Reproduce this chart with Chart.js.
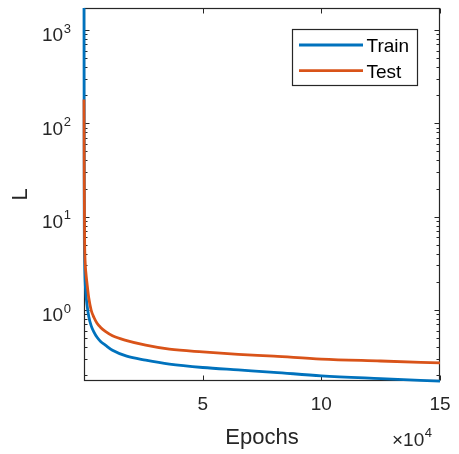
<!DOCTYPE html>
<html>
<head>
<meta charset="utf-8">
<script src="https://cdn.jsdelivr.net/npm/chart.js@4"></script>
<style>
html, body { margin: 0; padding: 0; background: #fff; }
</style>
</head>
<body>
<canvas id="lossChart" width="459" height="454"></canvas>
<script>
// values
var epochs = [0, 100, 250, 450, 800, 1250, 2000, 3000, 4200, 5500, 7000, 9000,
  12000, 18000, 26000, 36000, 50000, 65000, 80000, 100000, 125000, 150000];
var trainLoss = [2000, 12, 3.5, 2.1, 1.5, 1.15, 0.85, 0.68, 0.58, 0.51, 0.46, 0.42,
  0.37, 0.32, 0.29, 0.263, 0.242, 0.228, 0.215, 0.197, 0.184, 0.173];
var testLoss = [180, 25, 6, 3.4, 2.5, 1.95, 1.35, 1.0, 0.83, 0.72, 0.65, 0.59,
  0.53, 0.47, 0.42, 0.38, 0.355, 0.335, 0.32, 0.298, 0.284, 0.271];
var seriesNames = ['Train', 'Test'];
var xTicks = [50000, 100000, 150000];
var yDecades = [0, 1, 2, 3];
var xRange = [0, 150000];
var yRange = [0.1734, 1721];

var axisColor = '#262626';
var fontFam = '"Liberation Sans", Arial, Helvetica, sans-serif';

function toPoints(xs, ys) {
    let pts = [];
    for (let i = 0; i < xs.length; i++) {
        pts.push({ x: xs[i], y: ys[i] });
    }
    return pts;
}

// matlab style box, inward ticks, 10^n labels and legend
var matlabAxes = {
    id: 'matlabAxes',
    beforeDatasetsDraw: function (chart) {
        var ctx = chart.ctx;
        var a = chart.chartArea;
        var xs = chart.scales.x;
        var ys = chart.scales.y;
        var L = Math.round(a.left) + 0.5, R = Math.round(a.right) - 0.5;
        var T = Math.round(a.top) + 0.5, B = Math.round(a.bottom) - 0.5;
        ctx.save();
        ctx.strokeStyle = axisColor;
        ctx.lineWidth = 1;
        ctx.beginPath();
        for (var v of xTicks) {
            var px = Math.round(xs.getPixelForValue(v)) + 0.5;
            ctx.moveTo(px, B); ctx.lineTo(px, B - 5);
            ctx.moveTo(px, T); ctx.lineTo(px, T + 5);
        }
        for (var d = -1; d <= 3; d++) {
            for (var m = 1; m <= 9; m++) {
                var val = m * Math.pow(10, d);
                if (val < yRange[0] || val > yRange[1]) continue;
                var py = Math.round(ys.getPixelForValue(val)) + 0.5;
                var len = m == 1 ? 5 : 3;
                ctx.moveTo(L, py); ctx.lineTo(L + len, py);
                ctx.moveTo(R, py); ctx.lineTo(R - len, py);
            }
        }
        ctx.stroke();
        ctx.lineWidth = 1.2;
        ctx.strokeRect(L, T, R - L, B - T);

        // y tick labels with superscripts
        ctx.fillStyle = axisColor;
        ctx.textBaseline = 'middle';
        ctx.textAlign = 'left';
        for (var e of yDecades) {
            var y = ys.getPixelForValue(Math.pow(10, e));
            ctx.font = '19px ' + fontFam;
            var bx = a.left - 42;
            ctx.fillText('10', bx, y + 6);
            var w = ctx.measureText('10').width;
            ctx.font = '13px ' + fontFam;
            ctx.fillText(String(e), bx + w + 0.5, y - 1);
        }

        // x10^4 multiplier
        ctx.font = '19px ' + fontFam;
        var mx = a.right - 48;
        var my = a.bottom + 60;
        ctx.fillText('\u00d710', mx, my);
        var mw = ctx.measureText('\u00d710').width;
        ctx.font = '13px ' + fontFam;
        ctx.fillText('4', mx + mw + 0.5, my - 8);
        ctx.restore();
    },
    afterDraw: function (chart) {
        var ctx = chart.ctx;
        var a = chart.chartArea;
        var bx = Math.round(a.right) - 147.5;
        var by = Math.round(a.top) + 21.5;
        ctx.save();
        ctx.fillStyle = '#fff';
        ctx.fillRect(bx, by, 125, 56);
        ctx.strokeStyle = axisColor;
        ctx.lineWidth = 1.2;
        ctx.strokeRect(bx, by, 125, 56);
        chart.data.datasets.forEach(function (ds, i) {
            var ly = by + 15.5 + i * 25.7;
            ctx.strokeStyle = ds.borderColor;
            ctx.lineWidth = 2.8;
            ctx.beginPath();
            ctx.moveTo(bx + 6.5, ly);
            ctx.lineTo(bx + 70.5, ly);
            ctx.stroke();
            ctx.fillStyle = '#000';
            ctx.font = '19px ' + fontFam;
            ctx.textBaseline = 'middle';
            ctx.textAlign = 'left';
            ctx.fillText(ds.label, bx + 74, ly + 2);
        });
        ctx.restore();
    }
};

var chartData = {
    datasets: [{
        label: seriesNames[0],
        data: toPoints(epochs, trainLoss),
        borderColor: '#0072BD',
        borderWidth: 2.8,
        pointRadius: 0,
        cubicInterpolationMode: 'monotone',
        clip: { left: 2, top: 0, right: 2, bottom: 3 },
        order: 2
    }, {
        label: seriesNames[1],
        data: toPoints(epochs, testLoss),
        borderColor: '#D95319',
        borderWidth: 2.8,
        pointRadius: 0,
        cubicInterpolationMode: 'monotone',
        clip: { left: 2, top: 0, right: 2, bottom: 3 },
        order: 1
    }]
};

var ctx = document.getElementById('lossChart');
var lossChart = new Chart(ctx, {
    type: 'line',
    data: chartData,
    options: {
        responsive: false,
        animation: false,
        devicePixelRatio: 1,
        layout: { padding: { top: 8, right: 19, left: 0, bottom: 0 } },
        plugins: { legend: { display: false }, tooltip: { enabled: false } },
        scales: {
            x: {
                type: 'linear',
                min: xRange[0],
                max: xRange[1],
                grid: { display: false, drawTicks: false },
                border: { display: false },
                afterBuildTicks: function (s) {
                    s.ticks = xTicks.map(function (v) { return { value: v }; });
                },
                afterFit: function (s) {
                    s.height = 73;
                    s.paddingLeft = 0;
                    s.paddingRight = 0;
                },
                ticks: {
                    font: { family: fontFam, size: 19 },
                    color: axisColor,
                    padding: 12,
                    maxRotation: 0,
                    callback: function (v) { return v / 1e4; }
                },
                title: {
                    display: true,
                    text: 'Epochs',
                    color: axisColor,
                    font: { family: fontFam, size: 22 },
                    padding: { top: 0, bottom: 3 }
                }
            },
            y: {
                type: 'logarithmic',
                min: yRange[0],
                max: yRange[1],
                grid: { display: false, drawTicks: false },
                border: { display: false },
                ticks: { display: false },
                afterFit: function (s) {
                    s.width = 84;
                    s.paddingTop = 0;
                    s.paddingBottom = 0;
                },
                title: {
                    display: true,
                    text: 'L',
                    color: axisColor,
                    font: { family: fontFam, size: 22 },
                    padding: { top: 8, bottom: 0 }
                }
            }
        }
    },
    plugins: [matlabAxes]
});
</script>
</body>
</html>
